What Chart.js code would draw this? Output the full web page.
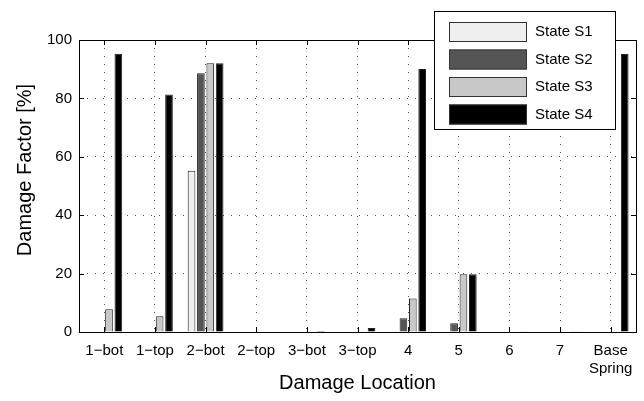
<!DOCTYPE html>
<html>
<head>
<meta charset="utf-8">
<script src="https://cdn.jsdelivr.net/npm/chart.js@4"></script>
<style>
  html, body { margin: 0; padding: 0; background: #fff; }
  #wrap { width: 644px; height: 401px; }
</style>
</head>
<body>
<div id="wrap"><canvas id="damageChart"></canvas></div>
<script>
// Data
const locations = ["1\u2212bot", "1\u2212top", "2\u2212bot", "2\u2212top", "3\u2212bot", "3\u2212top", "4", "5", "6", "7", ["Base", "Spring"]];
const stateS1 = [0, 0, 55.2, 0, 0, 0, 0, 0, 0, 0, 0];
const stateS2 = [0, 0, 88.6, 0, 0, 0, 4.7, 3.0, 0, 0, 0];
const stateS3 = [7.8, 5.4, 92.0, 0, 0, 0, 11.5, 19.8, 0, 0, 0];
const stateS4 = [95.3, 81.3, 92.0, 0.2, 0.3, 1.4, 90.1, 19.8, 0.1, 0.1, 95.2];
const yTicks = [0, 20, 40, 60, 80, 100];

const fontFamily = "'Liberation Sans', Arial, sans-serif";

// box, inward ticks, y label and legend drawn like the matlab figure
const framePlugin = {
    id: "frame",
    afterDraw(chart) {
        const ctx = chart.ctx;
        const a = chart.chartArea;
        const xs = chart.scales.x, ys = chart.scales.y;
        ctx.save();
        ctx.strokeStyle = "#000";
        ctx.lineWidth = 1;
        ctx.beginPath();
        for (let i = 0; i < locations.length; i++) {
            const x = Math.round(xs.getPixelForValue(i)) + 0.5;
            ctx.moveTo(x, a.bottom); ctx.lineTo(x, a.bottom - 5);
            ctx.moveTo(x, a.top); ctx.lineTo(x, a.top + 5);
        }
        yTicks.forEach(v => {
            const y = Math.round(ys.getPixelForValue(v)) + 0.5;
            ctx.moveTo(a.left, y); ctx.lineTo(a.left + 5, y);
            ctx.moveTo(a.right, y); ctx.lineTo(a.right - 5, y);
        });
        ctx.stroke();
        ctx.strokeRect(Math.round(a.left) + 0.5, Math.round(a.top) + 0.5,
                       Math.round(a.right - a.left), Math.round(a.bottom - a.top));

        // y label
        ctx.save();
        ctx.translate(25, 170);
        ctx.rotate(-Math.PI / 2);
        ctx.font = "20px " + fontFamily;
        ctx.fillStyle = "#000";
        ctx.textAlign = "center";
        ctx.textBaseline = "middle";
        ctx.fillText("Damage Factor [%]", 0, 0);
        ctx.restore();

        // legend
        const lx = 434, ly = 11, lw = 181, lh = 118;
        ctx.fillStyle = "#fff";
        ctx.fillRect(lx, ly, lw, lh);
        ctx.strokeRect(lx + 0.5, ly + 0.5, lw, lh);
        ctx.font = "15px " + fontFamily;
        ctx.textBaseline = "middle";
        chart.data.datasets.forEach((ds, i) => {
            const cy = ly + 21 + i * 27.5;
            ctx.fillStyle = ds.backgroundColor;
            ctx.fillRect(449, cy - 10, 78, 20);
            ctx.strokeStyle = "#333";
            ctx.strokeRect(449.5, cy - 9.5, 77, 19);
            ctx.fillStyle = "#000";
            ctx.fillText(ds.label, 535, cy);
        });
        ctx.restore();
    }
};

new Chart(document.getElementById("damageChart"), {
    type: "bar",
    data: {
        labels: locations,
        datasets: [
            { label: "State S1", data: stateS1, backgroundColor: "#efefef" },
            { label: "State S2", data: stateS2, backgroundColor: "#555555" },
            { label: "State S3", data: stateS3, backgroundColor: "#c8c8c8" },
            { label: "State S4", data: stateS4, backgroundColor: "#000000" }
        ].map(d => Object.assign(d, {
            borderColor: "#222", borderWidth: 1,
            categoryPercentage: 0.74, barPercentage: 0.82
        }))
    },
    options: {
        responsive: true,
        maintainAspectRatio: false,
        animation: false,
        layout: { padding: { left: 0, right: 8, top: 40, bottom: 0 } },
        plugins: { legend: { display: false }, tooltip: { enabled: false } },
        scales: {
            x: {
                grid: { offset: false, drawTicks: false, color: "#555", lineWidth: 1 },
                border: { display: false, dash: [1, 7] },
                ticks: { color: "#000", font: { size: 15, family: fontFamily }, padding: 10, maxRotation: 0, autoSkip: false },
                title: { display: true, text: "Damage Location", color: "#000",
                         font: { size: 20, family: fontFamily }, padding: { top: 2, bottom: 6 } },
                afterFit: s => { s.height = 69; }
            },
            y: {
                min: 0, max: 100,
                afterBuildTicks: s => { s.ticks = yTicks.map(v => ({ value: v })); },
                grid: { drawTicks: false, color: "#555", lineWidth: 1 },
                border: { display: false, dash: [1, 7] },
                ticks: { color: "#000", font: { size: 15, family: fontFamily }, padding: 7 },
                afterFit: s => { s.width = 79; }
            }
        }
    },
    plugins: [framePlugin]
});
</script>
</body>
</html>
